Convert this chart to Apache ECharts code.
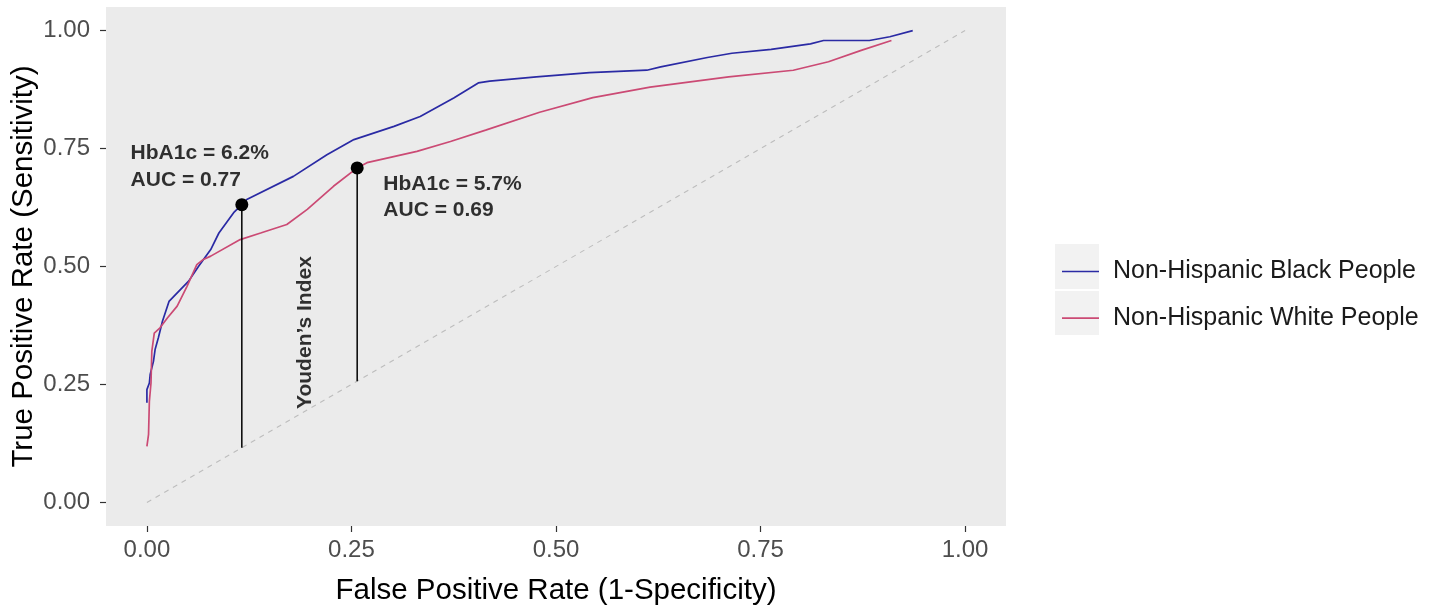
<!DOCTYPE html>
<html>
<head>
<meta charset="utf-8">
<script src="https://cdn.jsdelivr.net/npm/echarts@6/dist/echarts.min.js"></script>
<style>
html,body{margin:0;padding:0;background:#fff;}
#chart{width:1438px;height:606px;}
</style>
</head>
<body>
<div id="chart"></div>
<script>
// ---- data ----
const seriesNames = ['Non-Hispanic Black People', 'Non-Hispanic White People'];

const fprBlack = [0.000, 0.000, 0.003, 0.004, 0.008, 0.010, 0.014, 0.019, 0.027, 0.051, 0.063, 0.078, 0.088, 0.106, 0.116, 0.122, 0.179, 0.220, 0.253, 0.302, 0.334, 0.375, 0.405, 0.419, 0.476, 0.541, 0.611, 0.628, 0.685, 0.715, 0.763, 0.811, 0.827, 0.883, 0.908, 0.936];
const tprBlack = [0.211, 0.239, 0.253, 0.271, 0.299, 0.324, 0.349, 0.384, 0.426, 0.469, 0.500, 0.536, 0.571, 0.614, 0.631, 0.642, 0.691, 0.737, 0.769, 0.797, 0.818, 0.857, 0.889, 0.893, 0.902, 0.911, 0.916, 0.923, 0.943, 0.952, 0.960, 0.972, 0.979, 0.979, 0.987, 1.000];

const fprWhite = [0.000, 0.002, 0.003, 0.005, 0.006, 0.009, 0.016, 0.025, 0.037, 0.049, 0.061, 0.069, 0.078, 0.114, 0.139, 0.171, 0.196, 0.228, 0.257, 0.269, 0.330, 0.371, 0.414, 0.480, 0.545, 0.615, 0.711, 0.790, 0.833, 0.873, 0.910];
const tprWhite = [0.119, 0.144, 0.214, 0.253, 0.320, 0.359, 0.370, 0.391, 0.416, 0.458, 0.504, 0.515, 0.522, 0.557, 0.571, 0.589, 0.621, 0.670, 0.709, 0.720, 0.744, 0.765, 0.789, 0.827, 0.858, 0.880, 0.902, 0.916, 0.934, 0.958, 0.979];

const tickValues = [0, 0.25, 0.5, 0.75, 1];

// optimal cut-offs (Youden's index)
const cutHbA1c = ['6.2%', '5.7%'];
const cutAUC = ['0.77', '0.69'];
const cutFpr = [0.116, 0.257];
const cutTpr = [0.631, 0.709];
// annotation anchors (data coordinates)
const noteX = [-0.020, 0.289];
const noteY = [0.712, 0.647];
const youdenAnchor = [0.194, 0.360];

// ---- build ----
const zip = (a, b) => a.map((v, i) => [v, b[i]]);
const FONT = "'Liberation Sans', Arial, sans-serif";
const colBlack = '#2A2AA4';
const colWhite = '#CB4A74';

const chart = echarts.init(document.getElementById('chart'), null, {renderer: 'canvas'});

const series = [
  {
    name: 'ref', type: 'line', data: [[0, 0], [1, 1]], symbol: 'none', silent: true,
    lineStyle: {color: '#BDBDBD', width: 1.1, type: [5, 5]}, z: 1
  },
  {
    name: seriesNames[0], type: 'line', data: zip(fprBlack, tprBlack), symbol: 'none', showSymbol: false,
    lineStyle: {color: colBlack, width: 1.7}, itemStyle: {color: colBlack}, z: 2
  },
  {
    name: seriesNames[1], type: 'line', data: zip(fprWhite, tprWhite), symbol: 'none', showSymbol: false,
    lineStyle: {color: colWhite, width: 1.7}, itemStyle: {color: colWhite}, z: 3
  }
];

cutFpr.forEach((x, i) => {
  series.push({
    name: 'youden' + i, type: 'line', data: [[x, x], [x, cutTpr[i]]], symbol: 'none', silent: true,
    lineStyle: {color: '#000', width: 1.5}, z: 4
  });
});

series.push({
  name: 'cuts', type: 'scatter', data: zip(cutFpr, cutTpr), symbol: 'circle', symbolSize: 13,
  itemStyle: {color: '#000', opacity: 1}, z: 5, silent: true
});

series.push({
  name: 'notes', type: 'scatter', symbolSize: 0, silent: true, z: 6,
  data: noteX.map((x, i) => ({
    value: [x, noteY[i]],
    label: {
      show: true, position: 'right', distance: 0,
      formatter: 'HbA1c = ' + cutHbA1c[i] + '\nAUC = ' + cutAUC[i],
      fontFamily: FONT, fontSize: 21, fontWeight: 'bold', color: '#000', lineHeight: 26.5, align: 'left'
    }
  }))
});

series.push({
  name: 'youdenText', type: 'scatter', symbolSize: 0, silent: true, z: 6,
  data: [{
    value: youdenAnchor,
    label: {
      show: true, position: 'inside', rotate: 90, formatter: 'Youden\u2019s Index',
      fontFamily: FONT, fontSize: 21, fontWeight: 'bold', color: '#000'
    }
  }]
});

const axisCommon = {
  type: 'value', min: -0.05, max: 1.05,
  axisLine: {show: false, onZero: false},
  splitLine: {show: false},
  axisTick: {show: true, length: 6, lineStyle: {color: '#333', width: 1.2}, customValues: tickValues},
  axisLabel: {
    customValues: tickValues, color: '#4D4D4D', fontFamily: FONT, fontSize: 24,
    formatter: v => v.toFixed(2)
  },
  nameLocation: 'middle',
  nameMoveOverlap: false,
  nameTextStyle: {fontFamily: FONT, fontSize: 29.5, color: '#000'}
};

const option = {
  animation: false,
  backgroundColor: '#fff',
  grid: {
    left: 106, right: 432, top: 7, bottom: 80, show: true, backgroundColor: '#EBEBEB', borderWidth: 0,
    containLabel: false, outerBoundsMode: 'none'
  },
  xAxis: Object.assign({}, axisCommon, {
    name: 'False Positive Rate (1-Specificity)', nameGap: 50,
    axisLabel: Object.assign({}, axisCommon.axisLabel, {margin: 12})
  }),
  yAxis: Object.assign({}, axisCommon, {
    name: 'True Positive Rate (Sensitivity)', nameGap: 67,
    axisLabel: Object.assign({}, axisCommon.axisLabel, {margin: 16})
  }),
  legend: {
    data: seriesNames, orient: 'vertical', left: 1057, top: 254,
    icon: 'rect', itemWidth: 37, itemHeight: 1.7, itemGap: 21.6,
    textStyle: {fontFamily: FONT, fontSize: 25, color: '#1A1A1A', lineHeight: 24, padding: [0, 0, 0, 9]},
    selectedMode: false
  },
  graphic: [
    {type: 'rect', left: 1055, top: 244, shape: {width: 44, height: 45}, style: {fill: '#F2F2F2'}, z: -10, silent: true},
    {type: 'rect', left: 1055, top: 291, shape: {width: 44, height: 44}, style: {fill: '#F2F2F2'}, z: -10, silent: true}
  ],
  series: series
};

chart.setOption(option);
</script>
</body>
</html>
